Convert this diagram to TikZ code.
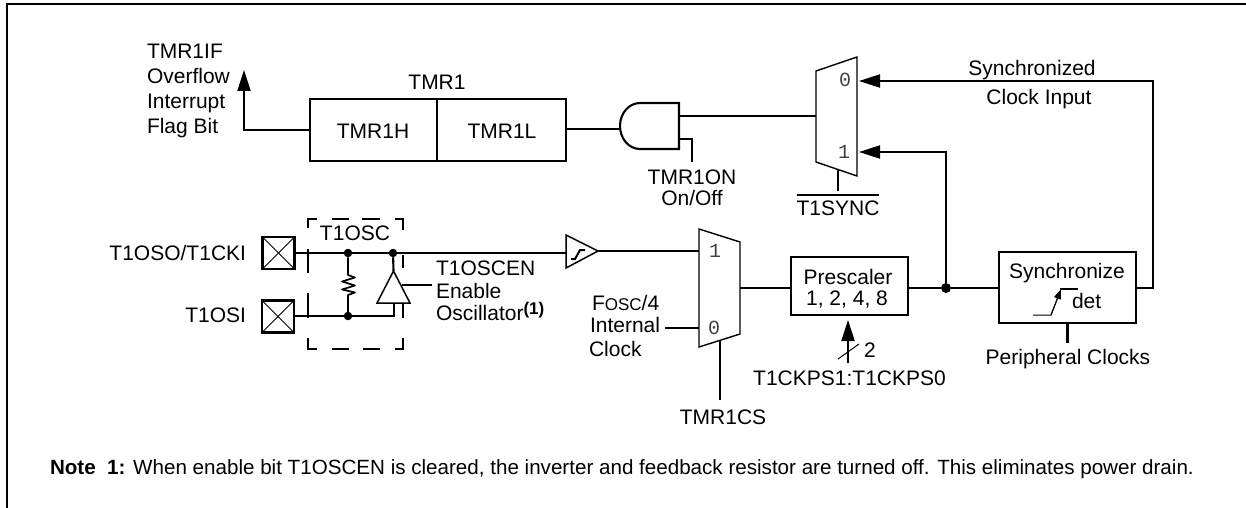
\documentclass[tikz,border=0pt]{standalone}
\usepackage{fontspec}
\setmainfont{Liberation Sans}
\newfontfamily\muxfont{Liberation Mono}
\usetikzlibrary{arrows.meta}
\tikzset{
  wire/.style={line width=2.1pt},
  thin wire/.style={line width=1.4pt},
  arrow wire/.style={wire,-{Triangle[length=21pt,width=13pt]}},
  lab/.style={inner sep=0pt,outer sep=0pt,font=\fontsize{21}{21}\selectfont,text height=15pt,text depth=0pt},
  muxlab/.style={inner sep=0pt,outer sep=0pt,font=\muxfont\fontsize{20}{20}\selectfont,text=black!75,text height=12pt,text depth=0pt},
  blk/.style={draw,line width=2.1pt,inner sep=0pt,outer sep=0pt},
  pad/.style={blk,minimum width=32pt,minimum height=32pt},
  dot/.style={circle,fill=black,inner sep=0pt,outer sep=0pt,minimum size=8.5pt},
}
\begin{document}
\begin{tikzpicture}[x=1pt,y=-1pt]
\useasboundingbox (0,0) rectangle (1246,508);
% frame
\draw[line width=2.2pt] (7,508) -- (7,4) -- (1246,4);

% TMR1 register
\node[blk,minimum width=127pt,minimum height=62pt] (tmrh) at (373.5,130) {};
\node[blk,minimum width=129pt,minimum height=62pt] (tmrl) at (501.5,130) {};
\node[lab] (tmrhtxt) at (373,131) {TMR1H};
\node[lab] (tmrltxt) at (502,131) {TMR1L};
\node[lab] (tmrtxt) at (437,82) {TMR1};
\coordinate (ifup) at (244,70);
\draw[arrow wire] (tmrh.west) -- (ifup |- tmrh.west) -- (ifup);
\node[lab,anchor=west] (if1) at (147,51) {TMR1IF};
\node[lab,anchor=west] (if2) at (147,76) {Overflow};
\node[lab,anchor=west] (if3) at (147,101) {Interrupt};
\node[lab,anchor=west] (if4) at (147,126) {Flag Bit};

% AND gate
\coordinate (andin) at (620,129);
\coordinate (andout) at (679,116);
\coordinate (andon) at (679,139);
\draw[wire] (679,103) -- (640,103) arc[start angle=270,end angle=90,x radius=20pt,y radius=-23pt] -- (679,149) -- cycle;
\draw[wire] (tmrl.east |- andin) -- (andin);
\coordinate (onend) at (692,162);
\draw[wire] (andon) -- (onend |- andon) -- (onend);
\node[lab] (ontxt) at (692,177) {TMR1ON};
\node[lab] (onoff) at (692,198) {On/Off};

% upper mux
\draw[thin wire] (816,71) -- (857,57) -- (857,176) -- (816,162) -- cycle;
\coordinate (m2in) at (816,116);
\coordinate (m2a) at (859,81);
\coordinate (m2b) at (859,152);
\coordinate (m2sel) at (838,170);
\draw[wire] (andout) -- (m2in);
\node[muxlab] (m20) at (845,81) {0};
\node[muxlab] (m21) at (844,152) {1};
\draw[wire] (m2sel) -- (838,191);
\node[lab] (syn) at (838,208) {T1SYNC};
\draw[line width=1.4pt] (syn.west |- 0,195) -- (syn.east |- 0,195);

% pads
\node[pad] (p1) at (278.5,253) {};
\node[pad] (p2) at (278,316.5) {};
\foreach \p in {p1,p2}{
  \draw[line width=1pt] (\p.north west) -- (\p.south east);
  \draw[line width=1pt] (\p.north east) -- (\p.south west);
}
\node[lab,anchor=east] (p1txt) at (246,253) {T1OSO/T1CKI};
\node[lab,anchor=east] (p2txt) at (246,315) {T1OSI};

% T1OSC dashed box
\draw[wire] (308,228) -- (308,219) -- (317,219);
\draw[wire] (332,219) -- (349,219);
\draw[wire] (362,219) -- (380,219);
\draw[wire] (395,219) -- (403,219) -- (403,230);
\draw[wire] (308,249) -- (308,273);
\draw[wire] (308,293) -- (308,318);
\draw[wire] (308,338) -- (308,349) -- (317,349);
\draw[wire] (332,349) -- (349,349);
\draw[wire] (363,349) -- (380,349);
\draw[wire] (395,349) -- (403,349) -- (403,338);
\draw[wire] (403,255) -- (403,268);
\draw[wire] (403,303) -- (403,318);
\node[lab] (osc) at (355,233) {T1OSC};

% oscillator network
\node[dot] (d1) at (348,253) {};
\node[dot] (d2) at (393,253) {};
\node[dot] (d3) at (348,316) {};
\coordinate (st) at (566,253);
\draw[wire] (p1.east) -- (st);
\draw[line width=1.7pt,line join=round] (d1) -- (348,275) -- (355,277.5) -- (342,281.5) -- (355,285.5) -- (342,289.5) -- (355,292.5) -- (348,295) -- (d3);
\coordinate (invapex) at (393.5,271);
\coordinate (invbase) at (394,303);
\draw[wire] (d2) -- (invapex);
\draw[wire] (p2.east |- d3) -- (invbase |- d3) -- (invbase);
\draw[line width=1.5pt] (377,303) -- (invapex) -- (410,303) -- cycle;
\coordinate (inven) at (402,285);
\draw[wire] (inven) -- (432,285);
\node[lab,anchor=west] (en1) at (436,268) {T1OSCEN};
\node[lab,anchor=west] (en2) at (436,291) {Enable};
\node[lab,anchor=west] (en3) at (436,313) {Oscillator\textbf{\raisebox{6pt}{\fontsize{17}{17}\selectfont (1)}}};

% Schmitt buffer
\draw[line width=1.5pt] (566,235) -- (598,251) -- (566,268) -- cycle;
\draw[line width=2pt] (571,259) -- (575,259) -- (580,250) -- (585,250);
\coordinate (stout) at (598,251);

% lower mux
\draw[thin wire] (699,229) -- (740,242) -- (740,334) -- (699,347) -- cycle;
\coordinate (m1a) at (699,251);
\coordinate (m1b) at (699,328);
\coordinate (m1out) at (740,288);
\coordinate (m1sel) at (720,341);
\draw[wire] (stout) -- (m1a);
\draw[wire] (665,328) -- (m1b);
\draw[wire] (m1sel) -- (720,400);
\node[muxlab] (m11) at (715,251) {1};
\node[muxlab] (m10) at (714,328) {0};
\node[lab,anchor=west] (f1) at (592,303) {F{\fontsize{17}{17}\selectfont OSC}/4};
\node[lab,anchor=west] (f2) at (590,325) {Internal};
\node[lab,anchor=west] (f3) at (589,349) {Clock};
\node[lab] (cs) at (723,417) {TMR1CS};

% prescaler
\node[blk,minimum width=117pt,minimum height=58pt] (pre) at (849.5,286) {};
\node[lab] (pre1) at (848,277) {Prescaler};
\node[lab] (pre2) at (847,298) {1, 2, 4, 8};
\draw[wire] (m1out) -- (m1out -| pre.west);
\coordinate (psin) at (848,363);
\draw[arrow wire] (psin) -- (848,320);
\draw[line width=1pt] (838,359) -- (859,344);
\node[lab] (two) at (870,350) {2};
\node[lab] (psel) at (849.5,378) {T1CKPS1:T1CKPS0};

% junction and synchronizer
\node[dot,minimum size=10pt] (j) at (946,288) {};
\node[blk,minimum width=137pt,minimum height=71pt] (sync) at (1067.5,287.5) {};
\draw[wire] (pre.east |- j) -- (j) -- (sync.west |- j);
\draw[arrow wire] (j) -- (j |- m2b) -- (m2b);
\coordinate (fb) at (1153,288);
\draw[arrow wire] (sync.east |- fb) -- (fb) -- (fb |- m2a) -- (m2a);
\node[lab] (s1) at (1032,68) {Synchronized};
\node[lab] (s2) at (1039,97) {Clock Input};
\node[lab] (s3) at (1067,271) {Synchronize};
\node[lab,anchor=west] (s4) at (1072,301) {det};
\draw[line width=1pt] (1033,315) -- (1051,315) -- (1058,297);
\draw[line width=1pt,-{Triangle[length=10pt,width=7pt]}] (1051,315) -- (1061,289);
\draw[line width=1.5pt] (1060,289) -- (1078,289);
\draw[wire] (sync.south) -- (sync.south |- 0,343);
\node[lab] (pc) at (1068,357) {Peripheral Clocks};

% note
\node[lab,anchor=west,font=\fontsize{20.6}{21}\selectfont] (note) at (50,467) {\textbf{Note\ \ 1:} When enable bit T1OSCEN is cleared, the inverter and feedback resistor are turned off. This eliminates power drain.};
\end{tikzpicture}
\end{document}
